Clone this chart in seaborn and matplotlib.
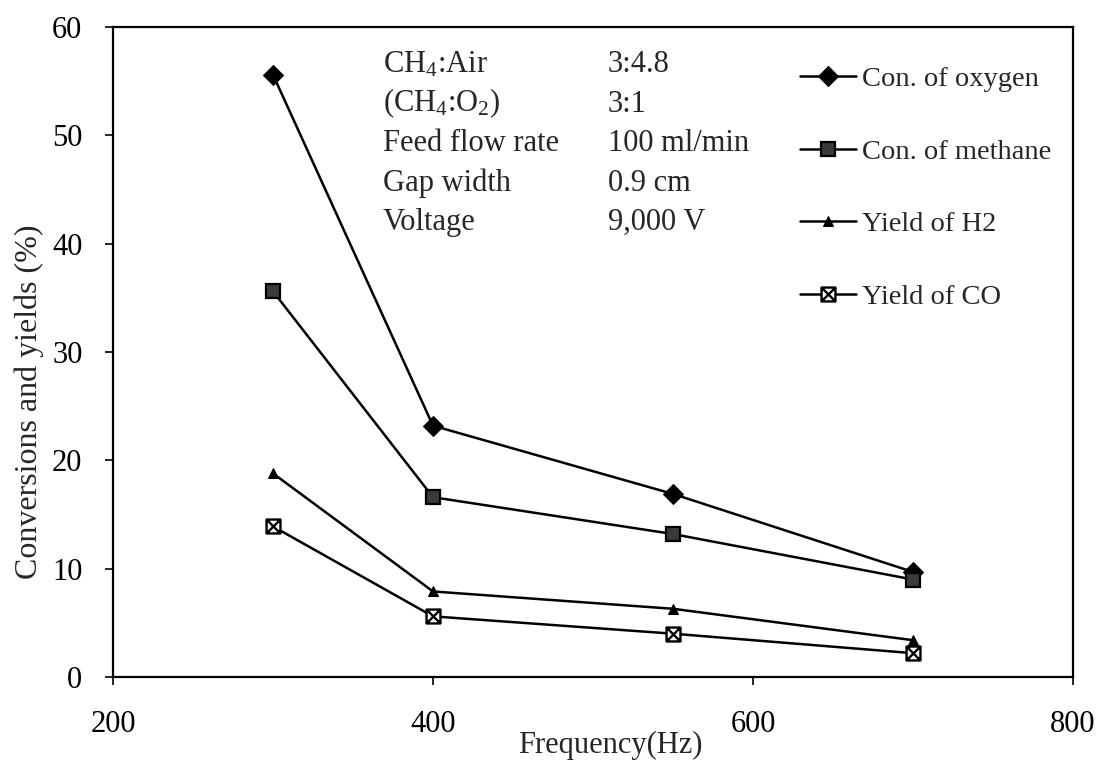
import numpy as np
import pandas as pd
import matplotlib
matplotlib.use("Agg")
import matplotlib.pyplot as plt
from matplotlib.path import Path
import seaborn as sns

# Measured data: conversions and yields vs. applied frequency
frequency = [300, 400, 550, 700]
con_oxygen = [55.6, 23.2, 16.9, 9.7]
con_methane = [35.6, 16.6, 13.2, 9.0]
yield_h2 = [18.8, 7.9, 6.3, 3.4]
yield_co = [13.9, 5.6, 4.0, 2.2]

series_labels = ["Con. of oxygen", "Con. of methane", "Yield of H2", "Yield of CO"]

x_ticks = [200, 400, 600, 800]
y_ticks = [0, 10, 20, 30, 40, 50, 60]

cond_names = ["CH$_4$:Air", "(CH$_4$:O$_2$)", "Feed flow rate", "Gap width", "Voltage"]
cond_values = ["3:4.8", "3:1", "100 ml/min", "0.9 cm", "9,000 V"]

sns.set_style("white")
plt.rcParams["font.family"] = ["Liberation Serif", "DejaVu Serif"]
plt.rcParams["mathtext.fontset"] = "custom"
plt.rcParams["mathtext.rm"] = "Liberation Serif"
plt.rcParams["mathtext.it"] = "Liberation Serif:italic"

# square with an X through it
boxx = Path(
    [(-1, -1), (1, -1), (1, 1), (-1, 1), (-1, -1), (-1, -1), (1, 1), (-1, 1), (1, -1)],
    [Path.MOVETO, Path.LINETO, Path.LINETO, Path.LINETO, Path.CLOSEPOLY,
     Path.MOVETO, Path.LINETO, Path.MOVETO, Path.LINETO],
)

df = pd.DataFrame({
    "Frequency": frequency * 4,
    "Value": con_oxygen + con_methane + yield_h2 + yield_co,
    "Series": np.repeat(series_labels, len(frequency)),
})

styles = {
    "Con. of oxygen": dict(marker="D", markersize=10, markerfacecolor="black",
                           markeredgecolor="black"),
    "Con. of methane": dict(marker="s", markersize=10.5, markerfacecolor="#3a3a3a",
                            markeredgecolor="black", markeredgewidth=1.6),
    "Yield of H2": dict(marker="^", markersize=6.5, markerfacecolor="black",
                        markeredgecolor="black"),
    "Yield of CO": dict(marker=boxx, markersize=10, markerfacecolor="white",
                        markeredgecolor="black", markeredgewidth=1.7),
}

fig = plt.figure(figsize=(11.01, 7.67), dpi=100)
ax = fig.add_axes([0.1026, 0.1173, 0.872, 0.8475])

for name in series_labels:
    sub = df[df["Series"] == name]
    sns.lineplot(data=sub, x="Frequency", y="Value", ax=ax, color="black",
                 linewidth=1.8, label=name, **styles[name])

ax.set_xlim(200, 800)
ax.set_ylim(0, 60)
ax.set_xticks(x_ticks)
ax.set_yticks(y_ticks)
ax.tick_params(axis="both", direction="out", length=6, width=1.2, labelsize=22,
               colors="black")
ax.tick_params(axis="x", pad=18, bottom=True)
ax.tick_params(axis="y", pad=16, left=True)
for s in ax.spines.values():
    s.set_color("black")
    s.set_linewidth(1.6)

ax.set_xlabel("Frequency(Hz)", fontsize=22)
ax.set_ylabel("Conversions and yields (%)", fontsize=23)
ax.xaxis.set_label_coords((610 - 113) / 960, -(745 - 677) / 650)
ax.yaxis.set_label_coords(-(113 - 29) / 960, (677 - 402) / 650)
ax.xaxis.label.set_va("center")
ax.yaxis.label.set_va("center")

leg = ax.legend(loc="upper left", bbox_to_anchor=(0.716, 0.940), frameon=False,
                fontsize=20.5, handlelength=1.95, handletextpad=0.2,
                labelspacing=1.64, borderpad=0, borderaxespad=0)

# operating conditions block
for i, (n, v) in enumerate(zip(cond_names, cond_values)):
    yb = (677 - (72 + 39.5 * i)) / 650
    ax.text((383 - 113) / 960, yb, n, transform=ax.transAxes, fontsize=22,
            va="baseline", ha="left")
    ax.text((608 - 113) / 960, yb, v, transform=ax.transAxes, fontsize=22,
            va="baseline", ha="left")

fig.savefig("out.png", dpi=100)
